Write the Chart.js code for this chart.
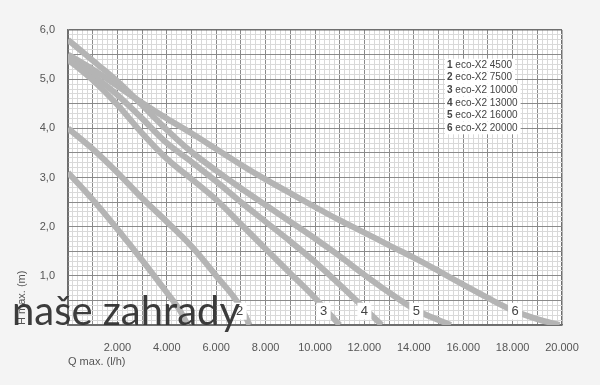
<!DOCTYPE html>
<html>
<head>
<meta charset="utf-8">
<script src="https://cdn.jsdelivr.net/npm/chart.js@4.4.1/dist/chart.umd.min.js"></script>
<style>
  html, body { margin: 0; padding: 0; background: #f4f4f4; }
  canvas { display: block; }
</style>
</head>
<body>
<canvas id="pumpChart" width="600" height="385"></canvas>
<script>
// modely čerpadel
const models = ['eco-X2 4500', 'eco-X2 7500', 'eco-X2 10000', 'eco-X2 13000', 'eco-X2 16000', 'eco-X2 20000'];

// Q (l/h) a H (m)
const q1 = [0, 1000, 2000, 3000, 4000, 4500, 4850];
const h1 = [3.1, 2.55, 1.95, 1.32, 0.66, 0.32, 0];
const q2 = [0, 1000, 2000, 3000, 4000, 5000, 6000, 7000, 7350];
const h2 = [4.0, 3.58, 3.1, 2.58, 2.1, 1.6, 1.0, 0.36, 0];
const q3 = [0, 1000, 2000, 3000, 4000, 5000, 6000, 7000, 8000, 9000, 10000, 11000];
const h3 = [5.4, 4.98, 4.48, 3.9, 3.38, 2.97, 2.55, 2.05, 1.55, 1.05, 0.55, 0];
const q4 = [0, 1000, 2000, 3000, 4000, 5000, 6000, 7000, 8000, 9000, 10000, 11000, 12000, 12700];
const h4 = [5.46, 5.08, 4.68, 4.2, 3.7, 3.32, 2.92, 2.5, 2.1, 1.7, 1.28, 0.82, 0.34, 0];
const q5 = [0, 1000, 2000, 3000, 4000, 5000, 6000, 7000, 8000, 9000, 10000, 11000, 12000, 13000, 14000, 15000, 15500];
const h5 = [5.8, 5.38, 4.96, 4.47, 3.97, 3.52, 3.14, 2.78, 2.44, 2.1, 1.76, 1.4, 1.02, 0.66, 0.33, 0.1, 0];
const q6 = [0, 1000, 2000, 3000, 4000, 5000, 6000, 7000, 8000, 9000, 10000, 11000, 12000, 13000, 14000, 15000, 16000, 17000, 18000, 19000, 19900];
const h6 = [5.5, 5.2, 4.86, 4.52, 4.2, 3.9, 3.58, 3.26, 2.96, 2.68, 2.4, 2.13, 1.88, 1.62, 1.37, 1.1, 0.82, 0.55, 0.3, 0.12, 0];

// čísla křivek u osy Q
const curveTags = ['2', '3', '4', '5', '6'];
const curveTagQ = [6950, 10350, 12000, 14100, 18100];
const curveTagH = 0.28;

const qs = [q1, q2, q3, q4, q5, q6];
const hs = [h1, h2, h3, h4, h5, h6];

const FONT = '"Liberation Sans", Arial, sans-serif';
const TXT = '#555';

const datasets = models.map((name, i) => ({
  label: name,
  data: qs[i].map((q, j) => ({ x: q, y: hs[i][j] })),
  borderColor: '#b4b4b4',
  borderWidth: 6,
  pointRadius: 0,
  cubicInterpolationMode: 'monotone',
  clip: 0,
  fill: false
}));

const isMajor = (v, step) => Math.abs(v / step - Math.round(v / step)) < 1e-6;

function gridColor(v, max, step) {
  if (v <= 1e-9 || Math.abs(v - max) < 1e-6) return '#6e6e6e';
  return isMajor(v, step) ? '#8a8a8a' : '#d9d9d9';
}

const overlay = {
  id: 'overlay',
  beforeDraw(chart) {
    const { ctx, chartArea: a } = chart;
    ctx.save();
    ctx.fillStyle = '#ffffff';
    ctx.fillRect(a.left, a.top, a.right - a.left, a.bottom - a.top);
    ctx.restore();
  },
  afterDraw(chart) {
    const { ctx } = chart;
    const xs = chart.scales.x, ys = chart.scales.y;
    ctx.save();

    // legenda
    ctx.textBaseline = 'middle';
    chart.data.datasets.forEach((ds, i) => {
      const y = 65 + i * 12.6;
      ctx.font = 'bold 10px ' + FONT;
      const num = String(i + 1);
      const wn = ctx.measureText(num + ' ').width;
      ctx.font = '10px ' + FONT;
      const wt = ctx.measureText(ds.label).width;
      ctx.fillStyle = '#fff';
      ctx.fillRect(445, y - 6.3, wn + wt + 5, 12.6);
      ctx.fillStyle = '#444';
      ctx.font = 'bold 10px ' + FONT;
      ctx.textAlign = 'left';
      ctx.fillText(num, 447, y);
      ctx.font = '10px ' + FONT;
      ctx.fillText(ds.label, 447 + wn, y);
    });

    // čísla křivek
    ctx.font = '13px ' + FONT;
    ctx.textAlign = 'center';
    curveTags.forEach((t, i) => {
      const px = xs.getPixelForValue(curveTagQ[i]);
      const py = ys.getPixelForValue(curveTagH);
      ctx.fillStyle = '#fff';
      ctx.fillRect(px - 7, py - 8.5, 14, 17);
      ctx.fillStyle = '#444';
      ctx.fillText(t, px, py + 0.5);
    });

    // vodoznak
    ctx.font = '40px Lato, "Noto Sans", sans-serif';
    ctx.textAlign = 'left';
    ctx.textBaseline = 'alphabetic';
    ctx.fillStyle = 'rgba(50,50,50,0.95)';
    ctx.fillText('naše zahrady', 12, 325, 228);
    ctx.restore();
  }
};

new Chart(document.getElementById('pumpChart'), {
  type: 'line',
  data: { datasets },
  plugins: [overlay],
  options: {
    responsive: false,
    animation: false,
    devicePixelRatio: 1,
    layout: { padding: { top: 30, right: 38, left: 0, bottom: 0 } },
    plugins: { legend: { display: false }, tooltip: { enabled: false } },
    scales: {
      x: {
        type: 'linear',
        min: 0,
        max: 20000,
        afterBuildTicks: s => {
          s.ticks = [];
          for (let v = 0; v <= 20000; v += 200) s.ticks.push({ value: v });
        },
        afterFit: s => { s.height = 60; },
        grid: {
          drawTicks: false,
          color: c => gridColor(c.tick.value, 20000, 1000),
          lineWidth: c => (c.tick.value === 20000 ? 1.5 : 1)
        },
        border: { color: '#6e6e6e', width: 1.5 },
        ticks: {
          autoSkip: false,
          maxRotation: 0,
          padding: 16,
          color: TXT,
          font: { family: FONT, size: 11 },
          callback: v => (v > 0 && v % 2000 === 0 ? (v / 1000) + '.000' : '')
        },
        title: {
          display: true,
          text: 'Q max. (l/h)',
          align: 'start',
          color: TXT,
          font: { family: FONT, size: 11 },
          padding: { top: 0, bottom: 16 }
        }
      },
      y: {
        type: 'linear',
        min: 0,
        max: 6,
        afterBuildTicks: s => {
          s.ticks = [];
          for (let i = 0; i <= 60; i++) s.ticks.push({ value: i / 10 });
        },
        afterFit: s => { s.width = 68; },
        grid: {
          drawTicks: false,
          color: c => gridColor(c.tick.value, 6, 0.5),
          lineWidth: c => (Math.abs(c.tick.value - 6) < 1e-6 ? 1.5 : 1)
        },
        border: { color: '#6e6e6e', width: 1.5 },
        ticks: {
          autoSkip: false,
          padding: 13,
          color: TXT,
          font: { family: FONT, size: 11 },
          callback: v => (v > 0 && isMajor(v, 1) ? Math.round(v) + ',0' : '')
        },
        title: {
          display: true,
          text: 'H max. (m)',
          align: 'start',
          color: TXT,
          font: { family: FONT, size: 11 },
          padding: { top: 15, bottom: 0 }
        }
      }
    }
  }
});
</script>
</body>
</html>
